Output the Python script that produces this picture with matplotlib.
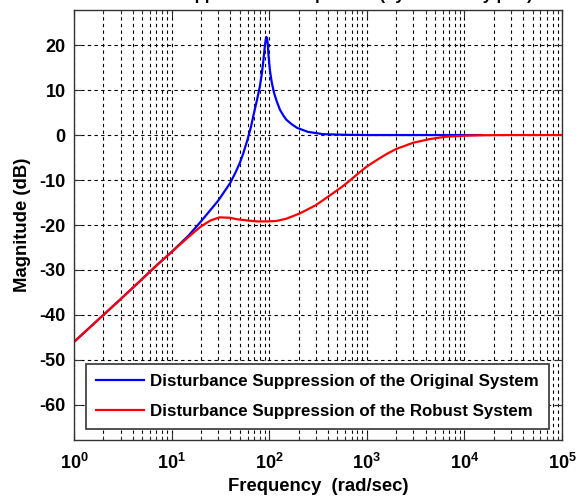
import matplotlib
matplotlib.use("Agg")
import matplotlib.pyplot as plt
from matplotlib.ticker import LogLocator, NullFormatter

# values (rad/sec, dB)
orig_freq = [1, 2, 3, 5, 7, 10, 15, 20, 30, 40, 45, 50, 54, 60, 65, 69, 75, 80, 84, 87, 90.5, 93, 95,
             97, 98, 100, 102, 106, 112, 119, 129, 140, 150, 170, 193, 250, 356, 600, 1000, 5000, 15000]
orig_mag = [-46, -40, -36.5, -32, -29, -26, -22.3, -19.2, -14.6, -10.6, -8.4, -6.2, -4.2, -1.0, 1.8, 4.4, 7.8, 10.7, 13.6, 16.4, 20, 21.8, 21.6,
            20.0, 18.2, 16.0, 14.2, 11.8, 9.4, 7.6, 5.6, 4.3, 3.4, 2.4, 1.6, 0.7, 0.2, 0.05, 0, 0, 0]

robust_freq = [1, 2, 3, 5, 7, 10, 15, 20, 25, 31, 40, 46, 60, 75, 95, 119, 150, 207, 300,
               420, 550, 673, 800, 1000, 1300, 1600, 2000, 3000, 4400, 6300, 10000, 14400, 30000, 100000]
robust_mag = [-46, -40, -36.5, -32, -29, -26, -22.6, -20.3, -19, -18.3, -18.4, -18.7, -19.0, -19.2, -19.2, -19.1, -18.6, -17.4, -15.6,
              -13.4, -11.6, -10.1, -8.7, -7.0, -5.4, -4.2, -3.1, -1.7, -0.9, -0.4, -0.15, -0.05, 0, 0]

labels = ["Disturbance Suppression of the Original System",
          "Disturbance Suppression of the Robust System"]

plt.rcParams['font.family'] = ['Liberation Sans', 'DejaVu Sans']
plt.rcParams['font.weight'] = 'bold'
plt.rcParams['axes.unicode_minus'] = False
plt.rcParams['mathtext.fontset'] = 'custom'
plt.rcParams['mathtext.rm'] = 'Liberation Sans:bold'
plt.rcParams['mathtext.bf'] = 'Liberation Sans:bold'
plt.rcParams['mathtext.default'] = 'bf'

fig = plt.figure(figsize=(5.82, 4.99), dpi=100)
ax = fig.add_axes([74/582, 1 - 440/499, (562 - 74)/582, (440 - 10)/499])

ax.semilogx(orig_freq, orig_mag, color='#0000ff', lw=1.6, label=labels[0])
ax.semilogx(robust_freq, robust_mag, color='#ff0000', lw=1.6, label=labels[1])

ax.set_xlim(1, 1e5)
ax.set_ylim(-67.8, 27.8)
ax.set_yticks(range(-60, 21, 10))
ax.xaxis.set_major_locator(LogLocator(base=10, numticks=10))
ax.xaxis.set_minor_locator(LogLocator(base=10, subs=range(2, 10), numticks=20))
ax.xaxis.set_minor_formatter(NullFormatter())

ax.grid(True, which='both', axis='x', color='black', linestyle=(0, (3, 3)), lw=0.8)
ax.grid(True, which='major', axis='y', color='black', linestyle=(0, (3, 3)), lw=0.8)

ax.tick_params(which='both', direction='in', top=True, right=True, color='#333333')
ax.tick_params(which='major', length=5, labelsize=13)
ax.tick_params(axis='y', which='major', pad=6)
ax.tick_params(axis='x', which='major', pad=9)
ax.tick_params(which='minor', length=3)
for lbl in ax.get_xticklabels() + ax.get_yticklabels():
    lbl.set_fontweight('bold')
for s in ax.spines.values():
    s.set_color('#333333')
    s.set_linewidth(1.0)

ax.set_xlabel("Frequency  (rad/sec)", fontsize=13.3, fontweight='bold', labelpad=4)
ax.set_ylabel("Magnitude (dB)", fontsize=13.3, fontweight='bold', labelpad=6)

leg = ax.legend(loc='lower center', bbox_to_anchor=(0.499, 0.026),
                prop={'weight': 'bold', 'size': 12.2}, fancybox=False, edgecolor='#333333',
                framealpha=1, handlelength=2.8, handletextpad=0.4, borderpad=0.6,
                labelspacing=0.85, borderaxespad=0)
leg.get_frame().set_linewidth(1.2)

# title mostly outside the top edge, as in the reference
fig.text(0.52, 1.0, "Disturbance Suppression Comparison (by Sensitivity plot)",
         ha='center', va='baseline', fontsize=12, fontweight='bold')

fig.savefig("out.png", dpi=100)
